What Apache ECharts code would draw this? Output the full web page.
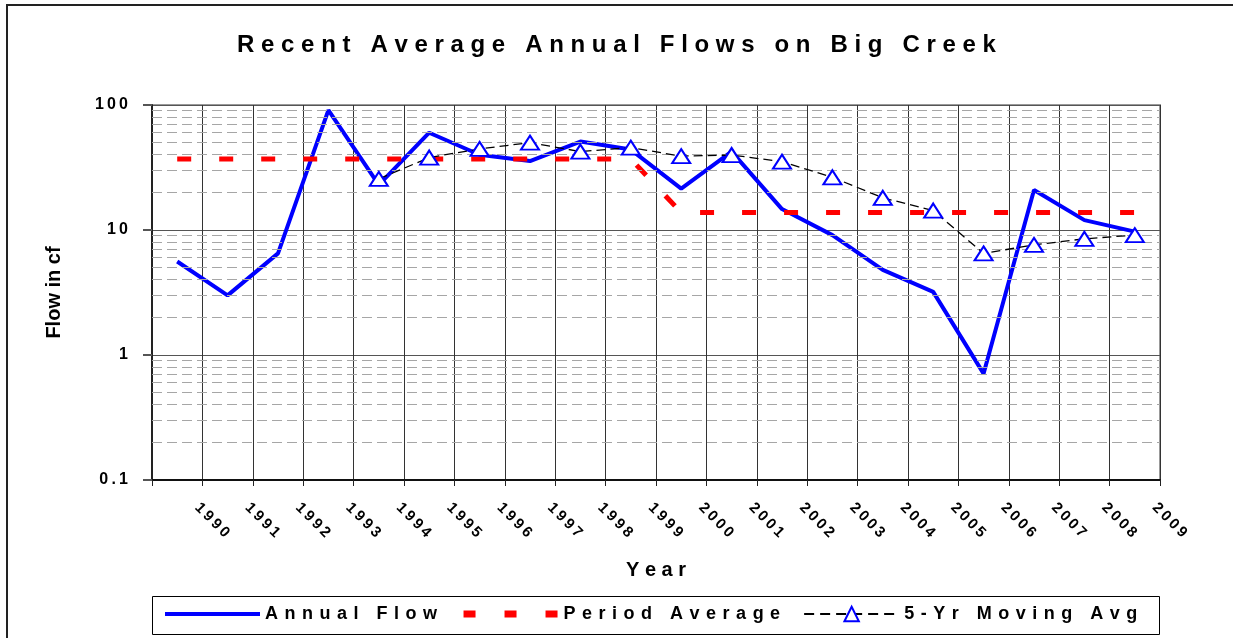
<!DOCTYPE html>
<html>
<head>
<meta charset="utf-8">
<script src="https://cdn.jsdelivr.net/npm/echarts@6/dist/echarts.min.js"></script>
<style>
  html, body { margin: 0; padding: 0; background: #fff; }
  #main { width: 1233px; height: 638px; }
</style>
</head>
<body>
<div id="main"></div>
<script>
var years = ['1990', '1991', '1992', '1993', '1994', '1995', '1996', '1997', '1998', '1999',
             '2000', '2001', '2002', '2003', '2004', '2005', '2006', '2007', '2008', '2009'];

var annualFlow = [5.6, 3.0, 6.5, 91, 23, 60, 40, 35.6, 51, 44,
                  21.4, 42.4, 14.7, 9.1, 4.8, 3.2, 0.71, 20.9, 12, 9.7];

var periodAverage = [37, 37, 37, 37, 37, 37, 37, 37, 37, 37,
                     13.8, 13.8, 13.8, 13.8, 13.8, 13.8, 13.8, 13.8, 13.8, 13.8];

var movingAvg = ['-', '-', '-', '-', 25.6, 38, 44.5, 50, 42.4, 45.6,
                 39, 39.8, 35.2, 26.4, 18.1, 14.3, 6.5, 7.6, 8.5, 9.1];

// log axis minor grid values (2..9 per decade)
var minorGrid = [0.2, 0.3, 0.4, 0.5, 0.6, 0.7, 0.8, 0.9,
                 2, 3, 4, 5, 6, 7, 8, 9,
                 20, 30, 40, 50, 60, 70, 80, 90];

// the original chart uses wide letter spacing
let spaced = (s, gap) => s.split('').join(gap);

var font = '"Liberation Sans", Arial, sans-serif';
var noSymbol = { color: 'rgba(0,0,0,0)', borderColor: 'rgba(0,0,0,0)', borderWidth: 0 };

var myChart = echarts.init(document.getElementById('main'));

var option = {
  animation: false,
  backgroundColor: '#fff',
  title: {
    text: spaced('Recent Average Annual Flows on Big Creek', ' '),
    left: 'center',
    top: 28,
    textStyle: { fontFamily: font, fontWeight: 'bold', fontSize: 24, color: '#000' }
  },
  graphic: [
    {
      type: 'polyline',
      silent: true,
      shape: { points: [[7, 638], [7, 5], [1233, 5]] },
      style: { stroke: '#222', lineWidth: 2, fill: null }
    },
    {
      type: 'rect',
      silent: true,
      shape: { x: 152.5, y: 596.5, width: 1007, height: 38 },
      style: { stroke: '#000', lineWidth: 1, fill: null }
    }
  ],
  legend: {
    left: 163,
    top: 605,
    padding: 0,
    itemWidth: 95,
    itemHeight: 18,
    itemGap: 23,
    textStyle: { fontFamily: font, fontWeight: 'bold', fontSize: 18, color: '#000' },
    formatter: function (name) { return spaced(name, ' \u200A'); },
    data: [
      { name: 'Annual Flow', itemStyle: noSymbol, lineStyle: { width: 4, color: '#0000ff' } },
      { name: 'Period Average', itemStyle: noSymbol, lineStyle: { width: 7, color: '#ff0000', type: [12, 29] } },
      { name: '5-Yr Moving Avg', lineStyle: { width: 2, color: '#000', type: [10, 6] } }
    ]
  },
  grid: {
    left: 152,
    right: 73,
    top: 105,
    bottom: 158,
    show: true,
    borderColor: '#999',
    borderWidth: 2
  },
  xAxis: [
    {
      type: 'category',
      data: years,
      boundaryGap: true,
      position: 'bottom',
      name: spaced('Year', ' '),
      nameLocation: 'middle',
      nameGap: 80,
      nameTextStyle: { fontFamily: font, fontWeight: 'bold', fontSize: 20, color: '#000' },
      axisLine: { show: true, lineStyle: { color: '#111', width: 2 } },
      axisTick: { show: false },
      axisLabel: { show: false },
      splitLine: { show: false }
    },
    {
      type: 'category',
      data: [''].concat(years),
      boundaryGap: false,
      position: 'bottom',
      axisLine: { show: false },
      axisTick: { show: true, inside: false, length: 6, lineStyle: { color: '#222' } },
      axisLabel: {
        interval: 0,
        rotate: -45,
        margin: 20,
        align: 'left',
        verticalAlign: 'top',
        fontFamily: font,
        fontWeight: 'bold',
        fontSize: 15,
        color: '#000',
        formatter: function (v) { return spaced(v, '\u2009'); }
      },
      splitLine: { show: true, lineStyle: { color: '#333', width: 1 } }
    }
  ],
  yAxis: {
    type: 'log',
    logBase: 10,
    min: 0.1,
    max: 100,
    name: 'Flow in cf',
    nameLocation: 'middle',
    nameGap: 88,
    nameTextStyle: { fontFamily: font, fontWeight: 'bold', fontSize: 20, color: '#000' },
    axisLine: { show: true, lineStyle: { color: '#222', width: 2 } },
    axisTick: { show: true, length: 9, lineStyle: { color: '#555', width: 2 } },
    axisLabel: {
      margin: 24,
      fontFamily: font,
      fontWeight: 'bold',
      fontSize: 16,
      color: '#000',
      formatter: function (v) { return spaced(String(v), '\u2009'); }
    },
    splitLine: { show: true, lineStyle: { color: '#555', width: 1 } }
  },
  series: [
    {
      name: 'grid-minor',
      type: 'line',
      xAxisIndex: 0,
      z: 1,
      silent: true,
      data: years.map(() => '-'),
      markLine: {
        silent: true,
        symbol: 'none',
        animation: false,
        label: { show: false },
        lineStyle: { color: '#a6a6a6', type: [10, 5], width: 1 },
        data: minorGrid.map(v => ({ yAxis: v }))
      }
    },
    {
      name: 'Annual Flow',
      type: 'line',
      xAxisIndex: 0,
      data: annualFlow,
      symbol: 'none',
      color: '#0000ff',
      lineStyle: { color: '#0000ff', width: 4 },
      z: 3
    },
    {
      name: 'Period Average',
      type: 'line',
      xAxisIndex: 0,
      data: periodAverage,
      symbol: 'none',
      color: '#ff0000',
      lineStyle: { color: '#ff0000', width: 5, type: [14, 28] },
      z: 4
    },
    {
      name: '5-Yr Moving Avg',
      type: 'line',
      xAxisIndex: 0,
      data: movingAvg,
      symbol: 'triangle',
      symbolSize: [18, 14],
      showAllSymbol: true,
      color: '#000',
      lineStyle: { color: '#000', width: 1.3, type: [9, 5] },
      itemStyle: { color: '#fff', borderColor: '#0000ff', borderWidth: 2 },
      z: 5
    }
  ]
};

myChart.setOption(option);
</script>
</body>
</html>
